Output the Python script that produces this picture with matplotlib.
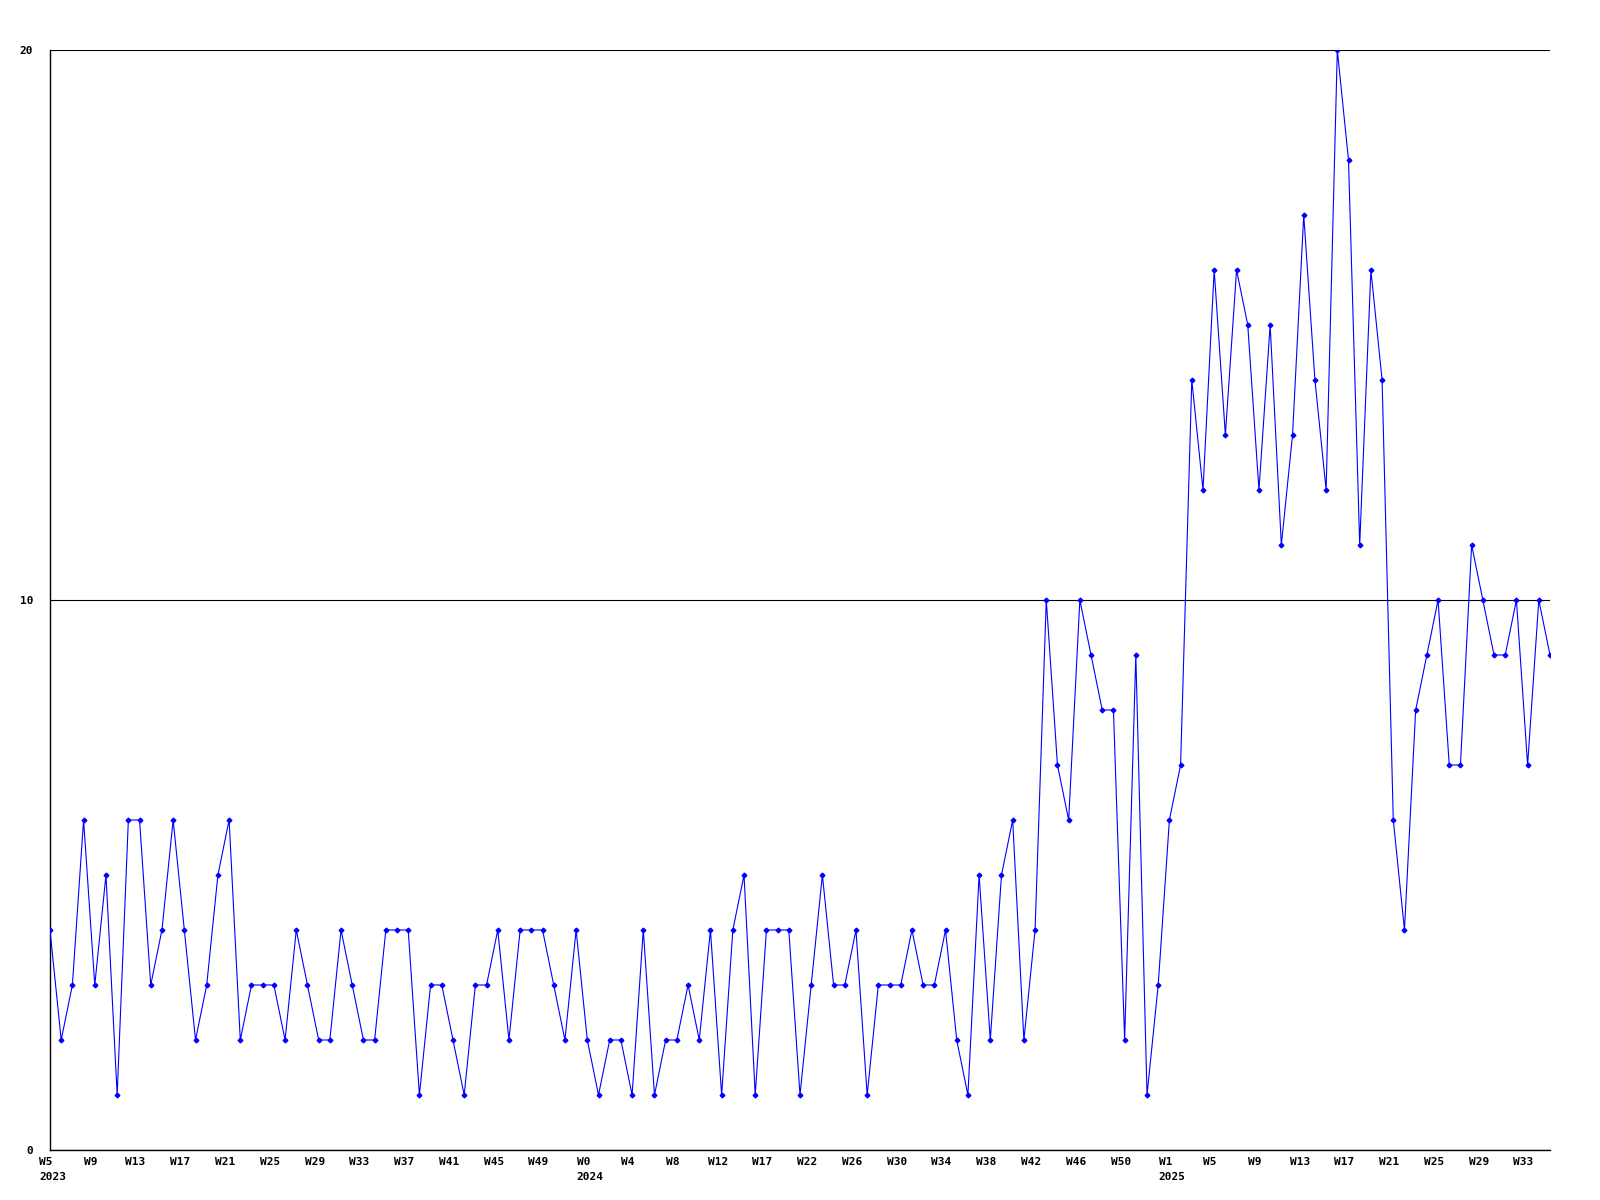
import matplotlib
matplotlib.use('Agg')
import matplotlib.pyplot as plt
from matplotlib.transforms import ScaledTranslation

# weekly counts, 2023 W5 .. 2025 W35
values_2023 = [4, 2, 3, 6, 3, 5, 1, 6, 6, 3, 4, 6, 4, 2, 3, 5, 6, 2, 3, 3,
               3, 2, 4, 3, 2, 2, 4, 3, 2, 2, 4, 4, 4, 1, 3, 3, 2, 1, 3, 3,
               4, 2, 4, 4, 4, 3, 2, 4]
values_2024 = [2, 1, 2, 2, 1, 4, 1, 2, 2, 3, 2, 4, 1, 4, 5, 1, 4, 4, 4, 1,
               3, 5, 3, 3, 4, 1, 3, 3, 3, 4, 3, 3, 4, 2, 1, 5, 2, 5, 6, 2,
               4, 10, 7, 6, 10, 9, 8, 8, 2, 9, 1, 3]
values_2025 = [6, 7, 14, 12, 16, 13, 16, 15, 12, 15, 11, 13, 17, 14, 12, 20,
               18, 11, 16, 14, 6, 4, 8, 9, 10, 7, 7, 11, 10, 9, 9, 10, 7, 10, 9]
values = values_2023 + values_2024 + values_2025

weeks_2023 = ['W5', 'W9', 'W13', 'W17', 'W21', 'W25', 'W29', 'W33', 'W37',
              'W41', 'W45', 'W49']
weeks_2024 = ['W0', 'W4', 'W8', 'W12', 'W17', 'W22', 'W26', 'W30', 'W34',
              'W38', 'W42', 'W46', 'W50']
weeks_2025 = ['W1', 'W5', 'W9', 'W13', 'W17', 'W21', 'W25', 'W29', 'W33']
week_labels = weeks_2023 + weeks_2024 + weeks_2025
label_step = 4
year_labels = ['2023', '2024', '2025']
year_starts = [0, len(weeks_2023), len(weeks_2023) + len(weeks_2024)]

font = dict(family='DejaVu Sans Mono', weight='bold', size=8, color='black')

fig = plt.figure(figsize=(16, 12), dpi=100)
ax = fig.add_axes([50 / 1600, 50 / 1200, 1500 / 1600, 1100 / 1200])

x = list(range(len(values)))
ax.plot(x, values, color='#0000ff', lw=0.8, marker='D', ms=2.4,
        mec='#0000ff', mfc='#0000ff', zorder=3)

ax.set_xlim(0, len(values) - 1)
ax.set_ylim(0, 20)
ax.set_yticks([0, 10, 20])
ax.set_yticklabels(['0', '10', '20'], fontdict=font)
ax.set_xticks([])
ax.tick_params(axis='y', length=0, pad=12)
ax.yaxis.grid(True, color='black', lw=0.8)
ax.set_axisbelow(True)

for s in ['top', 'right']:
    ax.spines[s].set_visible(False)
for s in ['left', 'bottom']:
    ax.spines[s].set_color('black')
    ax.spines[s].set_linewidth(1.0)

# week labels under every 4th point
wk_trans = ax.get_xaxis_transform() + ScaledTranslation(-4 / 100, -7 / 100, fig.dpi_scale_trans)
for i, lab in enumerate(week_labels):
    ax.text(i * label_step, 0, lab, transform=wk_trans, ha='center', va='top', **font)

# year labels, left aligned with the week label above
for yl, k in zip(year_labels, year_starts):
    w = len(week_labels[k]) * 0.602 * 8 / 72 * 100
    yr_trans = ax.get_xaxis_transform() + ScaledTranslation(
        (-4 - w / 2) / 100, -22 / 100, fig.dpi_scale_trans)
    ax.text(k * label_step, 0, yl, transform=yr_trans, ha='left', va='top', **font)

fig.savefig('out.png', dpi=100, facecolor='white')
